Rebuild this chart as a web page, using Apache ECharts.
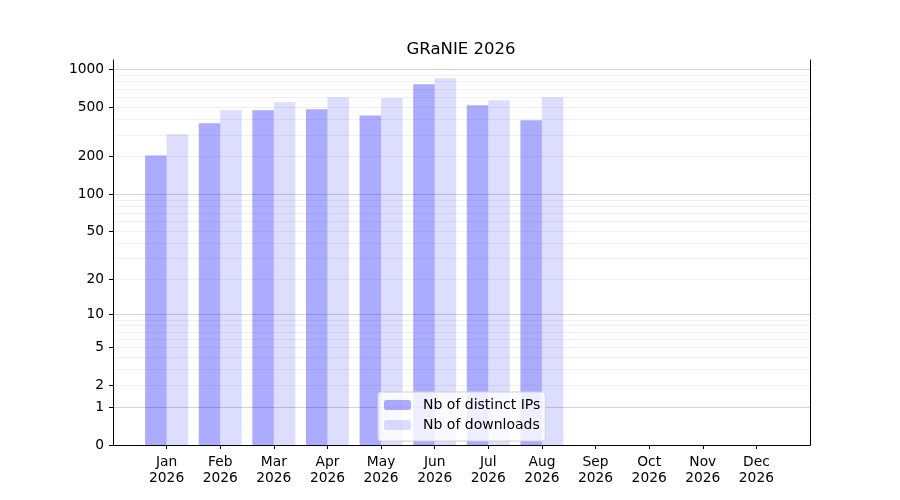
<!DOCTYPE html>
<html>
<head>
<meta charset="utf-8">
<script src="https://cdn.jsdelivr.net/npm/echarts@6/dist/echarts.min.js"></script>
<style>
  html, body { margin: 0; padding: 0; background: #fff; }
  #echarts_container { width: 900px; height: 500px; }
</style>
</head>
<body>
<div id="echarts_container"></div>
<script>
var chartDom = document.getElementById('echarts_container');
var myChart = echarts.init(chartDom);
var option;

// data
let months = ['Jan', 'Feb', 'Mar', 'Apr', 'May', 'Jun', 'Jul', 'Aug', 'Sep', 'Oct', 'Nov', 'Dec']
let year = '2026'
let ips = [205, 371, 471, 480, 429, 760, 517, 392, null, null, null, null]
let downloads = [303, 471, 546, 598, 590, 849, 566, 598, null, null, null, null]
let tickValues = [0, 1, 2, 5, 10, 20, 50, 100, 200, 500, 1000]
let majorGrid = [1, 10, 100, 1000]

// y is drawn on a log10(1 + x) scale
const tr = v => (v == null ? null : Math.log10(1 + v))

// one empty slot on each side so the months sit like in the original
let cats = [''].concat(months.map(m => m + '\n' + year), [''])
let ipsData = [null].concat(ips.map(tr), [null])
let dlData = [null].concat(downloads.map(tr), [null])

let maxVal = Math.max(...ips.filter(v => v != null), ...downloads.filter(v => v != null))
let yMax = tr(maxVal) * 1.05

let minorGrid = []
;[1, 10, 100].forEach(d => {
    for (let k = 2; k <= 9; k++) minorGrid.push(k * d)
})

const font = 'DejaVu Sans'

// hidden value axes only used to draw the grid lines
const gridAxis = (vals, color, pos) => ({
    type: 'value',
    position: pos,
    min: 0,
    max: yMax,
    axisLine: { show: pos == 'right', lineStyle: { color: '#000', width: 1 } },
    axisTick: { show: false, customValues: vals.map(tr) },
    axisLabel: { show: false },
    splitLine: { show: true, lineStyle: { color: color, width: 0.8 } }
})

option = {
    animation: false,
    textStyle: { fontFamily: font },
    title: {
        text: 'GRaNIE ' + year,
        left: 456,
        top: 36,
        textAlign: 'center',
        textStyle: { fontFamily: font, fontSize: 16.5, fontWeight: 'normal', color: '#000' }
    },
    legend: {
        data: ['Nb of distinct IPs', 'Nb of downloads'],
        orient: 'vertical',
        left: 378,
        top: 392,
        padding: [6, 5, 9, 6],
        itemWidth: 27,
        itemHeight: 10,
        itemGap: 6,
        backgroundColor: 'rgba(255,255,255,0.8)',
        borderColor: '#d0d0d0',
        borderWidth: 1,
        borderRadius: 3,
        textStyle: { fontFamily: font, fontSize: 14, color: '#000', padding: [0, 0, 0, 7] },
        z: 10
    },
    grid: {
        left: 113,
        right: 90,
        top: 60,
        bottom: 55,
        containLabel: false
    },
    xAxis: [
        {
            type: 'category',
            boundaryGap: false,
            data: cats,
            axisLine: { show: true, lineStyle: { color: '#000', width: 1 } },
            axisTick: {
                show: true,
                length: 4,
                interval: (i) => i > 0 && i < cats.length - 1,
                lineStyle: { color: '#000' }
            },
            axisLabel: {
                interval: 0,
                color: '#000',
                fontSize: 13.8,
                lineHeight: 16,
                margin: 9,
                fontFamily: font
            },
            splitLine: { show: false }
        },
        {
            type: 'category',
            position: 'top',
            data: cats,
            axisLine: { show: true, lineStyle: { color: '#000', width: 1 } },
            axisTick: { show: false },
            axisLabel: { show: false }
        }
    ],
    yAxis: [
        {
            type: 'value',
            min: 0,
            max: yMax,
            z: 5,
            axisLine: { show: true, lineStyle: { color: '#000', width: 1 } },
            axisTick: {
                show: true,
                length: 4,
                customValues: tickValues.map(tr),
                lineStyle: { color: '#000' }
            },
            axisLabel: {
                customValues: tickValues.map(tr),
                formatter: v => String(Math.round(Math.pow(10, v) - 1)),
                color: '#000',
                fontSize: 13.8,
                margin: 9,
                fontFamily: font
            },
            splitLine: { show: false }
        },
        gridAxis(minorGrid, '#ececec', 'right'),
        gridAxis(majorGrid, '#c8c8c8', 'left')
    ],
    series: [
        {
            name: 'Nb of distinct IPs',
            type: 'bar',
            data: ipsData,
            barWidth: 21.5,
            barGap: '0%',
            itemStyle: { color: 'rgba(0,0,255,0.33)' }
        },
        {
            name: 'Nb of downloads',
            type: 'bar',
            data: dlData,
            barWidth: 21.5,
            barGap: '0%',
            itemStyle: { color: 'rgba(0,0,255,0.135)' }
        }
    ]
};

option && myChart.setOption(option);
</script>
</body>
</html>
